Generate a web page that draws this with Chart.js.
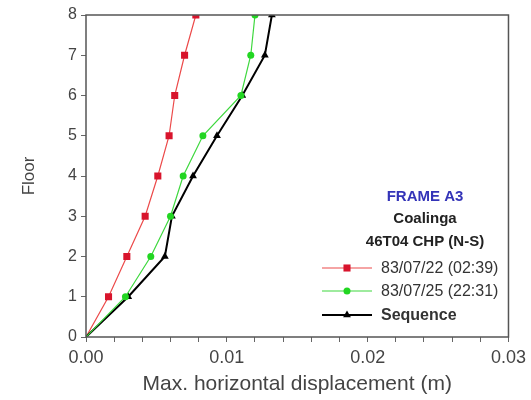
<!DOCTYPE html>
<html>
<head>
<meta charset="utf-8">
<script src="https://cdn.jsdelivr.net/npm/chart.js@4/dist/chart.umd.min.js"></script>
<style>
    html, body { margin: 0; padding: 0; background: #fff; }
    #wrap { width: 531px; height: 400px; }
</style>
</head>
<body>
<div id="wrap"><canvas id="floorChart" width="531" height="400"></canvas></div>
<script>
const floors = [0, 1, 2, 3, 4, 5, 6, 7, 8];
const disp830722 = [0, 0.0016, 0.0029, 0.0042, 0.0051, 0.0059, 0.0063, 0.0070, 0.0078];
const disp830725 = [0, 0.0028, 0.0046, 0.0060, 0.0069, 0.0083, 0.0110, 0.0117, 0.0120];
const dispSequence = [0, 0.0030, 0.0056, 0.0061, 0.0076, 0.0093, 0.0111, 0.0127, 0.0132];
const seriesLabels = ['83/07/22 (02:39)', '83/07/25 (22:31)', 'Sequence'];
const legendTitle = ['FRAME A3', 'Coalinga', '46T04 CHP (N-S)'];
const xTicks = [0, 0.01, 0.02, 0.03];
const yTicks = [0, 1, 2, 3, 4, 5, 6, 7, 8];

const toPoints = (vals) => vals.map((v, i) => ({ x: v, y: floors[i] }));
const noFirst = (r) => (ctx) => (ctx.dataIndex === 0 ? 0 : r);

const frame = {
    id: 'frame',
    afterDatasetsDraw(chart) {
        const { ctx, chartArea: a } = chart;
        ctx.save();
        ctx.strokeStyle = '#555';
        ctx.lineWidth = 1.5;
        ctx.strokeRect(a.left, a.top, a.right - a.left, a.bottom - a.top);
        ctx.restore();
    },
};

function marker(ctx, style, x, y, r) {
    ctx.beginPath();
    if (style === 'rect') {
        const s = r * Math.SQRT1_2;
        ctx.rect(x - s, y - s, 2 * s, 2 * s);
    } else if (style === 'triangle') {
        ctx.moveTo(x, y - r);
        ctx.lineTo(x + r * 0.87, y + r * 0.5);
        ctx.lineTo(x - r * 0.87, y + r * 0.5);
        ctx.closePath();
    } else {
        ctx.arc(x, y, r, 0, Math.PI * 2);
    }
    ctx.fill();
}

const insideLegend = {
    id: 'insideLegend',
    afterDraw(chart) {
        const ctx = chart.ctx;
        ctx.save();
        ctx.textAlign = 'center';
        ctx.textBaseline = 'middle';
        ctx.font = 'bold 15px "Liberation Sans", Arial, sans-serif';
        const titleColors = ['#3434b8', '#222', '#222'];
        const titleY = [197, 219, 242];
        legendTitle.forEach((t, i) => {
            ctx.fillStyle = titleColors[i];
            ctx.fillText(t, 425, titleY[i]);
        });

        const rowY = [268, 291, 315];
        chart.data.datasets.forEach((ds, i) => {
            const y = rowY[i];
            ctx.strokeStyle = ds.borderColor;
            ctx.lineWidth = ds.borderWidth;
            ctx.beginPath();
            ctx.moveTo(322, y);
            ctx.lineTo(372, y);
            ctx.stroke();
            ctx.fillStyle = ds.pointBackgroundColor;
            marker(ctx, ds.pointStyle, 347, y, ds.legendRadius);
            ctx.fillStyle = '#333';
            ctx.textAlign = 'left';
            ctx.font = (i === 2 ? 'bold ' : '') + '16px "Liberation Sans", Arial, sans-serif';
            ctx.fillText(ds.label, 381, y + 1);
        });
        ctx.restore();
    },
};

new Chart(document.getElementById('floorChart'), {
    type: 'line',
    data: {
        datasets: [
            {
                label: seriesLabels[0],
                data: toPoints(disp830722),
                borderColor: '#ec4a4a',
                borderWidth: 1.2,
                pointStyle: 'rect',
                pointRadius: noFirst(5),
                legendRadius: 5,
                pointBackgroundColor: '#d8142c',
                pointBorderColor: '#d8142c',
                pointBorderWidth: 0,
                order: 3,
            },
            {
                label: seriesLabels[1],
                data: toPoints(disp830725),
                borderColor: '#3ed83e',
                borderWidth: 1.2,
                pointStyle: 'circle',
                pointRadius: noFirst(3.5),
                legendRadius: 3.5,
                pointBackgroundColor: '#22d622',
                pointBorderColor: '#22d622',
                pointBorderWidth: 0,
                order: 1,
            },
            {
                label: seriesLabels[2],
                data: toPoints(dispSequence),
                borderColor: '#000',
                borderWidth: 2,
                pointStyle: 'triangle',
                pointRadius: noFirst(4.5),
                legendRadius: 4.5,
                pointBackgroundColor: '#000',
                pointBorderColor: '#000',
                pointBorderWidth: 0,
                order: 2,
            },
        ],
    },
    options: {
        responsive: false,
        animation: false,
        devicePixelRatio: 1,
        layout: {
            padding: { top: 15, right: 19, left: 0, bottom: 0 },
        },
        plugins: {
            legend: { display: false },
            tooltip: { enabled: false },
        },
        elements: {
            line: { tension: 0 },
        },
        scales: {
            x: {
                type: 'linear',
                min: 0,
                max: 0.03,
                grid: {
                    drawOnChartArea: false,
                    drawTicks: true,
                    tickLength: 5,
                    tickColor: '#666',
                },
                border: { display: false },
                afterBuildTicks: (scale) => {
                    const t = [];
                    for (let i = 0; i <= 15; i++) t.push({ value: i * 0.002 });
                    scale.ticks = t;
                },
                ticks: {
                    autoSkip: false,
                    maxRotation: 0,
                    padding: 5,
                    color: '#444',
                    font: { family: '"Liberation Sans", Arial, sans-serif', size: 18 },
                    callback: function (value) {
                        const hit = xTicks.find((v) => Math.abs(v - value) < 1e-6);
                        return hit === undefined ? '' : hit.toFixed(2);
                    },
                },
                title: {
                    display: true,
                    text: 'Max. horizontal displacement (m)',
                    color: '#444',
                    padding: { top: 0, bottom: 3 },
                    font: { family: '"Liberation Sans", Arial, sans-serif', size: 21 },
                },
                afterFit: (scale) => {
                    scale.height = 63;
                },
            },
            y: {
                type: 'linear',
                min: 0,
                max: 8,
                grid: {
                    drawOnChartArea: false,
                    tickLength: 5,
                    tickColor: '#666',
                },
                border: { display: false },
                afterBuildTicks: (scale) => {
                    scale.ticks = yTicks.map((v) => ({ value: v }));
                },
                ticks: {
                    padding: 4,
                    color: '#444',
                    font: { family: '"Liberation Sans", Arial, sans-serif', size: 16 },
                },
                title: {
                    display: true,
                    text: 'Floor',
                    color: '#444',
                    padding: { top: 19, bottom: 0 },
                    font: { family: '"Liberation Sans", Arial, sans-serif', size: 17 },
                },
                afterFit: (scale) => {
                    scale.width = 86;
                },
            },
        },
    },
    plugins: [frame, insideLegend],
});
</script>
</body>
</html>
